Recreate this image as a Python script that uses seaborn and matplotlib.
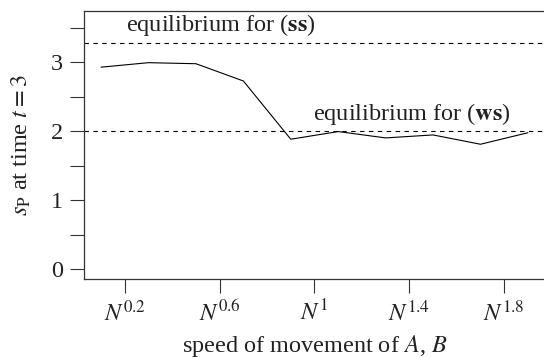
import numpy as np
import pandas as pd
import seaborn as sns
import matplotlib.pyplot as plt

sns.set_theme(style="ticks")
plt.rcParams['font.family'] = ['Liberation Serif', 'DejaVu Serif']
plt.rcParams['mathtext.fontset'] = 'stix'

# Exponent of N for the speed of movement, and s_P read at t = 3
speed_exp = [0.1, 0.3, 0.5, 0.7, 0.9, 1.1, 1.3, 1.5, 1.7, 1.9]
s_p = [2.93, 2.995, 2.98, 2.73, 1.886, 1.997, 1.905, 1.948, 1.813, 1.98]

eq_ss = 3.28
eq_ws = 2.0

xticks = [0.2, 0.6, 1.0, 1.4, 1.8]
xtick_labels = [r"$N^{0.2}$", r"$N^{0.6}$", r"$N^{1}$", r"$N^{1.4}$", r"$N^{1.8}$"]
yticks = [0, 0.5, 1, 1.5, 2, 2.5, 3, 3.5]
ytick_labels = ["0", "", "1", "", "2", "", "3", ""]

df = pd.DataFrame({"speed": speed_exp, "sp": s_p})

fig = plt.figure(figsize=(5.44, 3.58), dpi=100)
ax = fig.add_axes([0.1544, 0.2198, 0.8474, 0.7495])

sns.lineplot(data=df, x="speed", y="sp", color="black", lw=0.8, ax=ax)

ax.axhline(eq_ss, color="black", lw=0.8, linestyle=(0, (4, 4)))
ax.axhline(eq_ws, color="black", lw=0.8, linestyle=(0, (4, 4)))

ax.text(0.204, eq_ss + 0.07, r"equilibrium for ($\mathbf{ss}$)", fontsize=17.5,
        ha="left", va="bottom", color="#222222")
ax.text(0.993, eq_ws + 0.07, r"equilibrium for ($\mathbf{ws}$)", fontsize=17.5,
        ha="left", va="bottom", color="#222222")

ax.set_xlim(0.028, 1.972)
ax.set_ylim(-0.144, 3.744)
ax.set_xticks(xticks)
ax.set_xticklabels(xtick_labels)
ax.set_yticks(yticks)
ax.set_yticklabels(ytick_labels)

ax.tick_params(axis="both", length=10, width=0.8, color="#333333",
               labelsize=17.5, pad=5, labelcolor="#222222")
for s in ax.spines.values():
    s.set_linewidth(0.9)
    s.set_color("#333333")

ax.set_xlabel(r"speed of movement of $A$, $B$", fontsize=17.5, color="#222222", labelpad=5)
ax.set_ylabel(r"$s_{\mathrm{P}}$ at time $t = 3$", fontsize=17.5, color="#222222", labelpad=13)

fig.savefig("out.png", dpi=100)
